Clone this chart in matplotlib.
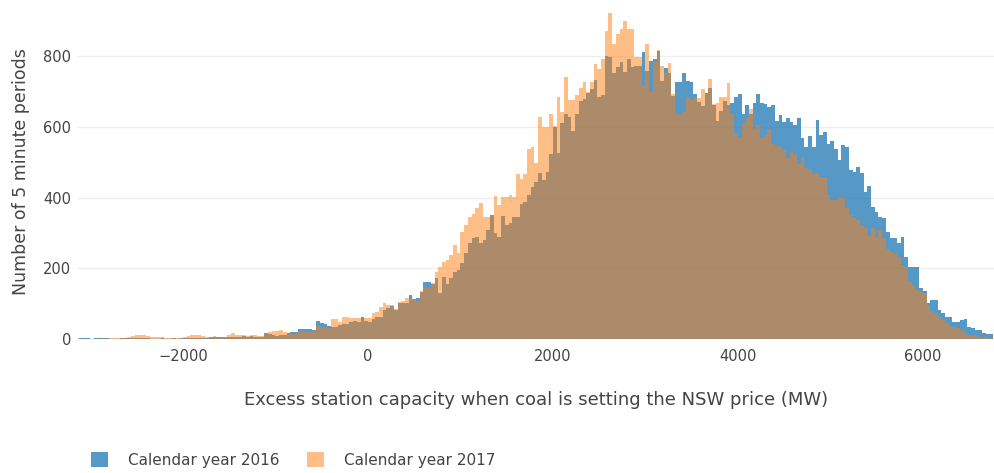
import numpy as np
import matplotlib
matplotlib.use('Agg')
import matplotlib.pyplot as plt
from matplotlib.patches import Patch

# histogram bins: 40 MW wide, starting at -3120 MW
BIN_START = -3120
BIN_WIDTH = 40

# counts of 5 minute periods per bin, calendar year 2016
counts_2016 = [
    3, 4, 3, 1, 3, 3, 2, 3, 1, 1,
    1, 2, 3, 3, 2, 2, 2, 2, 2, 1,
    1, 1, 2, 1, 1, 2, 1, 2, 2, 3,
    3, 4, 3, 4, 4, 5, 5, 5, 5, 5,
    6, 7, 6, 7, 8, 7, 8, 7, 6, 6,
    18, 14, 10, 9, 10, 12, 16, 19, 19, 28,
    28, 28, 27, 25, 50, 44, 43, 36, 35, 35,
    40, 42, 42, 49, 50, 49, 63, 50, 49, 58,
    63, 63, 82, 87, 92, 82, 101, 101, 101, 124,
    112, 115, 134, 162, 160, 156, 172, 129, 176, 157,
    172, 190, 195, 214, 244, 271, 285, 289, 271, 280,
    308, 350, 301, 289, 348, 322, 327, 346, 344, 382,
    389, 407, 431, 445, 471, 450, 473, 523, 601, 525,
    610, 638, 627, 589, 638, 672, 680, 695, 706, 733,
    685, 690, 800, 799, 753, 771, 785, 756, 791, 771,
    773, 773, 813, 759, 787, 791, 815, 731, 766, 754,
    688, 728, 728, 752, 731, 727, 693, 671, 659, 695,
    709, 662, 617, 646, 674, 662, 669, 684, 693, 637,
    662, 637, 669, 693, 669, 665, 657, 662, 618, 634,
    615, 624, 615, 605, 624, 568, 544, 574, 544, 620,
    577, 587, 553, 559, 539, 506, 549, 544, 478, 473,
    488, 469, 417, 434, 374, 360, 346, 341, 304, 285,
    285, 271, 290, 233, 205, 205, 205, 143, 135, 101,
    110, 110, 82, 73, 63, 63, 49, 49, 54, 56,
    35, 30, 25, 25, 18, 13, 13,
]

# calendar year 2017
counts_2017 = [
    0, 0, 1, 1, 1, 1, 2, 1, 2, 2,
    2, 2, 3, 6, 8, 10, 12, 11, 9, 7,
    6, 5, 7, 4, 3, 3, 3, 4, 6, 9,
    10, 11, 10, 9, 5, 7, 8, 7, 6, 7,
    12, 17, 10, 12, 11, 9, 10, 12, 9, 8,
    18, 20, 24, 22, 25, 20, 14, 13, 14, 20,
    22, 21, 20, 21, 38, 35, 35, 30, 58, 58,
    48, 63, 63, 60, 60, 60, 54, 60, 60, 73,
    77, 90, 101, 96, 96, 84, 105, 108, 115, 112,
    112, 108, 136, 143, 145, 158, 190, 205, 219, 223,
    238, 266, 244, 304, 322, 346, 354, 370, 386, 344,
    346, 352, 405, 379, 401, 403, 407, 403, 466, 452,
    466, 539, 544, 497, 629, 600, 601, 638, 603, 686,
    643, 740, 676, 676, 690, 710, 728, 700, 728, 778,
    763, 791, 872, 923, 836, 863, 877, 900, 877, 877,
    799, 799, 719, 836, 700, 785, 818, 772, 754, 780,
    692, 637, 634, 643, 686, 677, 682, 681, 706, 692,
    737, 665, 669, 684, 684, 723, 637, 582, 570, 610,
    625, 650, 595, 605, 570, 577, 595, 552, 546, 542,
    536, 511, 530, 520, 495, 511, 483, 480, 467, 470,
    459, 459, 407, 393, 393, 402, 398, 370, 351, 346,
    336, 323, 314, 291, 314, 290, 308, 285, 256, 247,
    240, 233, 209, 205, 162, 150, 139, 134, 129, 96,
    80, 73, 63, 54, 45, 38, 35, 30, 25, 18,
    11, 10, 8, 7, 7, 5, 4,
]

labels = ['Calendar year 2016', 'Calendar year 2017']
x_ticks = [-2000, 0, 2000, 4000, 6000]
y_ticks = [0, 200, 400, 600, 800]

TXT = '#444444'
BLUE = '#1f77b4'
ORANGE = '#ff7f0e'

n = len(counts_2016)
edges = BIN_START + BIN_WIDTH * np.arange(n + 1)

fig = plt.figure(figsize=(9.95, 4.73), dpi=100)
ax = fig.add_axes([0.0784, 0.2833, 0.9216, 0.7061])

ax.stairs(counts_2016, edges, fill=True, color=BLUE, alpha=0.75, lw=0, zorder=2)
ax.stairs(counts_2017, edges, fill=True, color=ORANGE, alpha=0.5, lw=0, zorder=3)

ax.set_xlim(-3135, 6780)
ax.set_ylim(0, 945)
ax.set_xticks(x_ticks)
ax.set_yticks(y_ticks)
ax.grid(axis='y', color='#eeeeee', lw=1, zorder=0)
ax.axhline(0, color='#888888', lw=1, zorder=4)
for s in ax.spines.values():
    s.set_visible(False)
ax.tick_params(length=0, labelsize=10.5, colors=TXT)
ax.tick_params(axis='x', pad=7)
ax.tick_params(axis='y', pad=5)

ax.set_xlabel('Excess station capacity when coal is setting the NSW price (MW)',
              fontsize=13, color=TXT, labelpad=20)
ax.set_ylabel('Number of 5 minute periods', fontsize=12.5, color=TXT, labelpad=9)

handles = [Patch(facecolor=BLUE, alpha=0.75, lw=0),
           Patch(facecolor=ORANGE, alpha=0.5, lw=0)]
fig.legend(handles, labels, loc='center left', bbox_to_anchor=(0.078, 0.028),
           ncol=2, frameon=False, fontsize=11, labelcolor=TXT,
           handlelength=1.1, handleheight=1.1, handletextpad=1.3,
           columnspacing=1.8)

fig.savefig('out.png', dpi=100)
